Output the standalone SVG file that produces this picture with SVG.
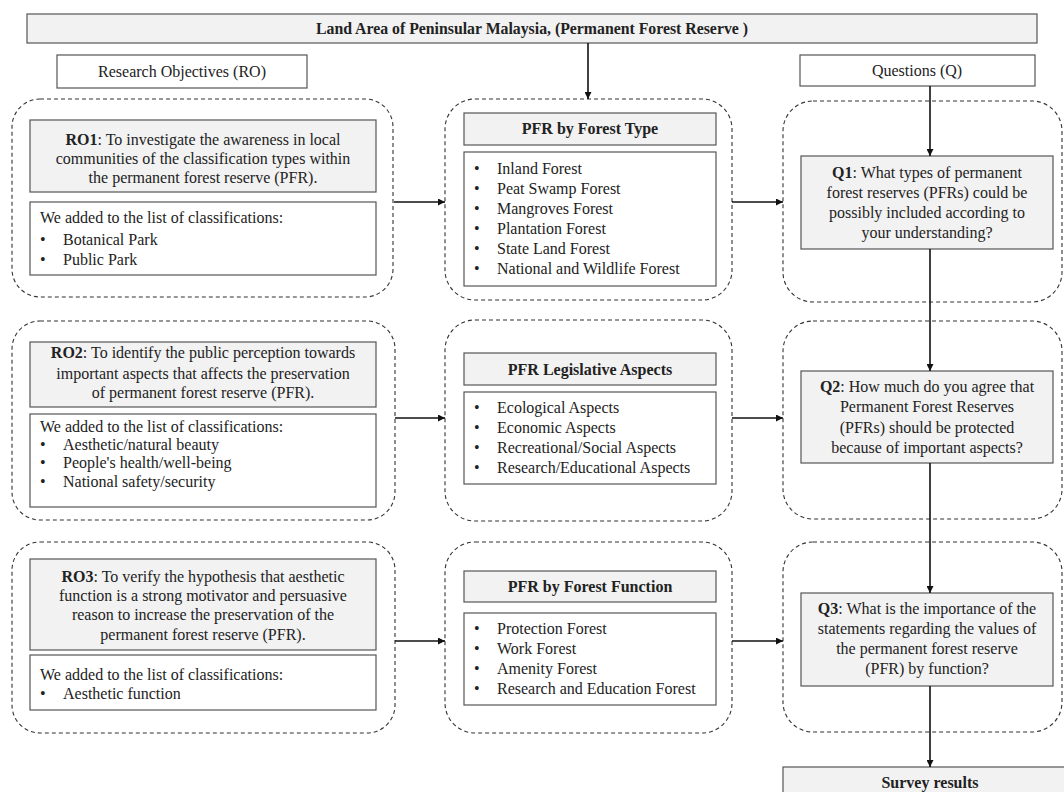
<svg xmlns="http://www.w3.org/2000/svg" width="1064" height="792" viewBox="0 0 1064 792">
<defs>
<style>
text{font-family:"Liberation Serif","Times New Roman",serif;font-size:16px;fill:#222}
.b{font-weight:bold}
.c{text-anchor:middle}
.dash{fill:none;stroke:#333;stroke-width:1.1;stroke-dasharray:4 3}
.sh{fill:#f2f2f2;stroke:#555;stroke-width:1.2}
.wh{fill:#fff;stroke:#555;stroke-width:1.2}
.ar{stroke:#111;stroke-width:1.6;fill:none;marker-end:url(#ah)}
</style>
<marker id="ah" viewBox="0 0 10 10" refX="10" refY="5" markerWidth="7" markerHeight="7" markerUnits="userSpaceOnUse" orient="auto">
<path d="M0,0 L10,5 L0,10 z" fill="#111"/>
</marker>
</defs>
<rect width="1064" height="792" fill="#fff"/>

<g id="title">
<rect class="sh" x="27" y="14" width="1010" height="29"/>
<text class="b c" x="532" y="34" font-size="15" textLength="432" lengthAdjust="spacingAndGlyphs">Land Area of Peninsular Malaysia, (Permanent Forest Reserve )</text>
</g>

<g id="ro-header">
<rect class="wh" x="57" y="55" width="250" height="33"/>
<text class="c" x="182" y="77" font-size="15">Research Objectives (RO)</text>
</g>

<g id="q-header">
<rect class="wh" x="800" y="55" width="235" height="31"/>
<text class="c" x="917" y="76" font-size="15">Questions (Q)</text>
</g>

<g id="ro1">
<rect class="dash" x="12" y="99" width="381" height="198" rx="28"/>
<rect class="sh" x="30" y="120" width="346" height="72"/>
<text class="c" x="203" y="145"><tspan class="b">RO1</tspan>: To investigate the awareness in local</text>
<text class="c" x="203" y="164">communities of the classification types within</text>
<text class="c" x="203" y="183">the permanent forest reserve (PFR).</text>
<rect class="wh" x="30" y="202" width="346" height="73"/>
<text x="40" y="223">We added to the list of classifications:</text>
<text x="40" y="245">•</text><text x="63" y="245">Botanical Park</text>
<text x="40" y="265">•</text><text x="63" y="265">Public Park</text>
</g>

<g id="ro2">
<rect class="dash" x="12" y="321" width="383" height="199" rx="28"/>
<rect class="sh" x="30" y="342" width="346" height="65"/>
<text class="c" x="203" y="358"><tspan class="b">RO2</tspan>: To identify the public perception towards</text>
<text class="c" x="203" y="379">important aspects that affects the preservation</text>
<text class="c" x="203" y="398">of permanent forest reserve (PFR).</text>
<rect class="wh" x="30" y="414" width="346" height="93"/>
<text x="40" y="432">We added to the list of classifications:</text>
<text x="40" y="450">•</text><text x="63" y="450">Aesthetic/natural beauty</text>
<text x="40" y="468">•</text><text x="63" y="468">People's health/well-being</text>
<text x="40" y="487">•</text><text x="63" y="487">National safety/security</text>
</g>

<g id="ro3">
<rect class="dash" x="12" y="542" width="383" height="191" rx="28"/>
<rect class="sh" x="30" y="559" width="346" height="91"/>
<text class="c" x="203" y="582"><tspan class="b">RO3</tspan>: To verify the hypothesis that aesthetic</text>
<text class="c" x="203" y="601">function is a strong motivator and persuasive</text>
<text class="c" x="203" y="620">reason to increase the preservation of the</text>
<text class="c" x="203" y="640">permanent forest reserve (PFR).</text>
<rect class="wh" x="30" y="655" width="346" height="55"/>
<text x="40" y="680">We added to the list of classifications:</text>
<text x="40" y="699">•</text><text x="63" y="699">Aesthetic function</text>
</g>

<g id="pfr-type">
<rect class="dash" x="445" y="99" width="287" height="201" rx="30"/>
<rect class="sh" x="464" y="113" width="252" height="32"/>
<text class="b c" x="590" y="134">PFR by Forest Type</text>
<rect class="wh" x="464" y="152" width="252" height="134"/>
<text x="474" y="174">•</text><text x="497" y="174">Inland Forest</text>
<text x="474" y="194">•</text><text x="497" y="194">Peat Swamp Forest</text>
<text x="474" y="214">•</text><text x="497" y="214">Mangroves Forest</text>
<text x="474" y="234">•</text><text x="497" y="234">Plantation Forest</text>
<text x="474" y="254">•</text><text x="497" y="254">State Land Forest</text>
<text x="474" y="274">•</text><text x="497" y="274">National and Wildlife Forest</text>
</g>

<g id="pfr-legislative">
<rect class="dash" x="445" y="320" width="287" height="201" rx="30"/>
<rect class="sh" x="464" y="353" width="252" height="32"/>
<text class="b c" x="590" y="375">PFR Legislative Aspects</text>
<rect class="wh" x="464" y="392" width="252" height="92"/>
<text x="474" y="413">•</text><text x="497" y="413">Ecological Aspects</text>
<text x="474" y="433">•</text><text x="497" y="433">Economic Aspects</text>
<text x="474" y="453">•</text><text x="497" y="453">Recreational/Social Aspects</text>
<text x="474" y="473">•</text><text x="497" y="473">Research/Educational Aspects</text>
</g>

<g id="pfr-function">
<rect class="dash" x="445" y="542" width="287" height="191" rx="30"/>
<rect class="sh" x="464" y="571" width="252" height="31"/>
<text class="b c" x="590" y="592">PFR by Forest Function</text>
<rect class="wh" x="464" y="613" width="252" height="92"/>
<text x="474" y="634">•</text><text x="497" y="634">Protection Forest</text>
<text x="474" y="654">•</text><text x="497" y="654">Work Forest</text>
<text x="474" y="674">•</text><text x="497" y="674">Amenity Forest</text>
<text x="474" y="694">•</text><text x="497" y="694">Research and Education Forest</text>
</g>

<g id="q1">
<rect class="dash" x="783" y="101" width="279" height="201" rx="30"/>
<rect class="sh" x="801" y="156" width="252" height="93"/>
<text class="c" x="927" y="178"><tspan class="b">Q1</tspan>: What types of permanent</text>
<text class="c" x="927" y="198">forest reserves (PFRs) could be</text>
<text class="c" x="927" y="218">possibly included according to</text>
<text class="c" x="927" y="238">your understanding?</text>
</g>

<g id="q2">
<rect class="dash" x="783" y="321" width="279" height="198" rx="30"/>
<rect class="sh" x="801" y="371" width="252" height="92"/>
<text class="c" x="927" y="392"><tspan class="b">Q2</tspan>: How much do you agree that</text>
<text class="c" x="927" y="412">Permanent Forest Reserves</text>
<text class="c" x="927" y="433">(PFRs) should be protected</text>
<text class="c" x="927" y="453">because of important aspects?</text>
</g>

<g id="q3">
<rect class="dash" x="783" y="542" width="279" height="190" rx="30"/>
<rect class="sh" x="801" y="593" width="252" height="93"/>
<text class="c" x="927" y="614"><tspan class="b">Q3</tspan>: What is the importance of the</text>
<text class="c" x="927" y="634">statements regarding the values of</text>
<text class="c" x="927" y="654">the permanent forest reserve</text>
<text class="c" x="927" y="674">(PFR) by function?</text>
</g>

<g id="survey">
<rect class="sh" x="783" y="767" width="290" height="40"/>
<text class="b c" x="930" y="788">Survey results</text>
</g>

<g id="connectors">
<line class="ar" x1="588" y1="43" x2="588" y2="99"/>
<line class="ar" x1="930" y1="86" x2="930" y2="156"/>
<line class="ar" x1="930" y1="249" x2="930" y2="371"/>
<line class="ar" x1="930" y1="463" x2="930" y2="593"/>
<line class="ar" x1="930" y1="686" x2="930" y2="767"/>
<line class="ar" x1="394" y1="202" x2="445" y2="202"/>
<line class="ar" x1="732" y1="202" x2="783" y2="202"/>
<line class="ar" x1="395" y1="418" x2="445" y2="418"/>
<line class="ar" x1="732" y1="418" x2="783" y2="418"/>
<line class="ar" x1="395" y1="641" x2="445" y2="641"/>
<line class="ar" x1="732" y1="641" x2="783" y2="641"/>
</g>
</svg>
